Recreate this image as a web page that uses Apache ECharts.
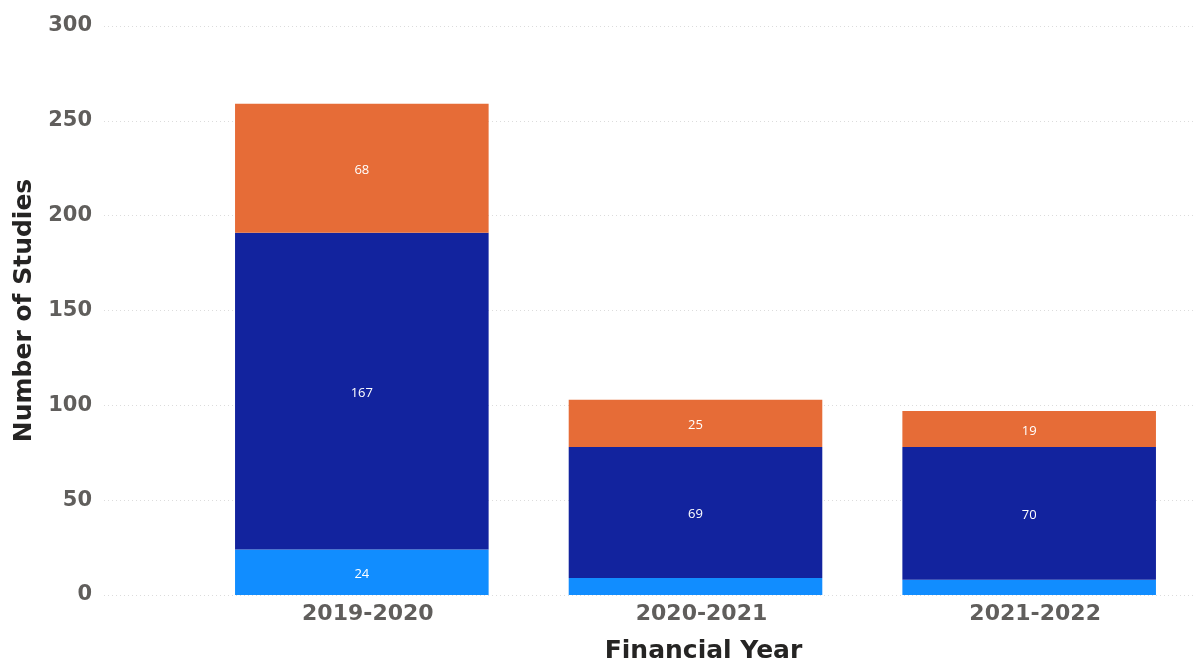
<!DOCTYPE html>
<html>
<head>
<meta charset="utf-8">
<script src="https://cdn.jsdelivr.net/npm/echarts@6/dist/echarts.min.js"></script>
<style>
  html, body { margin: 0; padding: 0; background: #fff; }
  #chart { width: 1194px; height: 671px; }
</style>
</head>
<body>
<div id="chart"></div>
<script>
// Studies per financial year, stacked by category
const years = ['2019-2020', '2020-2021', '2021-2022'];
const lightBlueValues = [24, 9, 8];
const navyValues = [167, 69, 70];
const orangeValues = [68, 25, 19];
const yTicks = [0, 50, 100, 150, 200, 250, 300];

const AXIS_FONT = '"DejaVu Sans", sans-serif';
const LABEL_FONT = '"Open Sans", "DejaVu Sans", sans-serif';
const yMin = yTicks[0];
const yMax = yTicks[yTicks.length - 1];
const yStep = yTicks[1] - yTicks[0];

function segLabel(minShown) {
  return {
    show: true,
    position: 'inside',
    offset: [0, 2],
    color: '#ffffff',
    fontFamily: LABEL_FONT,
    fontSize: 13,
    formatter: p => (p.value >= minShown ? String(p.value) : '')
  };
}

const chart = echarts.init(document.getElementById('chart'), null, { renderer: 'canvas' });

chart.setOption({
  animation: false,
  backgroundColor: '#ffffff',
  grid: [
    // gridlines + value labels
    { left: 104, right: 0, top: 26, bottom: 76, containLabel: false, outerBoundsMode: 'none' },
    // bars
    { left: 195, right: -2, top: 26, bottom: 76, containLabel: false, outerBoundsMode: 'none' }
  ],
  xAxis: [
    { gridIndex: 0, type: 'value', min: 0, max: 1, show: false },
    {
      gridIndex: 1,
      type: 'category',
      data: years,
      axisLine: { show: false },
      axisTick: { show: false },
      axisLabel: {
        color: '#605E5C',
        fontFamily: AXIS_FONT,
        fontWeight: 'bold',
        fontSize: 22,
        margin: 8,
        padding: [0, 0, 0, 12]
      },
      name: 'Financial Year',
      nameLocation: 'middle',
      nameGap: 44,
      nameTextStyle: {
        color: '#252423',
        fontFamily: AXIS_FONT,
        fontWeight: 'bold',
        fontSize: 25,
        padding: [0, 0, 0, 16]
      }
    }
  ],
  yAxis: [
    {
      gridIndex: 0,
      type: 'value',
      min: yMin,
      max: yMax,
      interval: yStep,
      axisLine: { show: false },
      axisTick: { show: false },
      axisLabel: {
        color: '#605E5C',
        fontFamily: AXIS_FONT,
        fontWeight: 'bold',
        fontSize: 21,
        margin: 12
      },
      splitLine: {
        show: true,
        lineStyle: { color: '#dcdcdc', type: [1, 3], width: 1 }
      },
      name: 'Number of Studies',
      nameLocation: 'middle',
      nameGap: 65,
      nameRotate: 90,
      nameTextStyle: {
        color: '#252423',
        fontFamily: AXIS_FONT,
        fontWeight: 'bold',
        fontSize: 25
      }
    },
    {
      gridIndex: 1,
      type: 'value',
      min: yMin,
      max: yMax,
      interval: yStep,
      show: false,
      splitLine: { show: false }
    }
  ],
  series: [
    {
      name: 'Category A',
      type: 'bar',
      stack: 'total',
      xAxisIndex: 1,
      yAxisIndex: 1,
      barWidth: '76%',
      data: lightBlueValues,
      itemStyle: { color: '#118DFF' },
      label: segLabel(15)
    },
    {
      name: 'Category B',
      type: 'bar',
      stack: 'total',
      xAxisIndex: 1,
      yAxisIndex: 1,
      data: navyValues,
      itemStyle: { color: '#12239E' },
      label: segLabel(15)
    },
    {
      name: 'Category C',
      type: 'bar',
      stack: 'total',
      xAxisIndex: 1,
      yAxisIndex: 1,
      data: orangeValues,
      itemStyle: { color: '#E66C37' },
      label: segLabel(15)
    }
  ]
});
</script>
</body>
</html>
